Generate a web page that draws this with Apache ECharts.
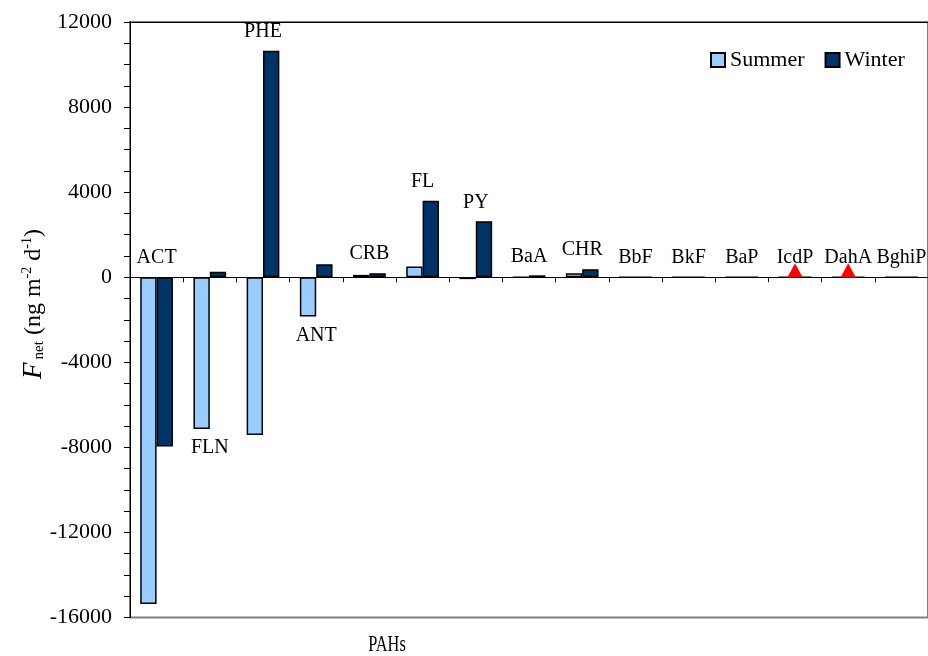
<!DOCTYPE html>
<html>
<head>
<meta charset="utf-8">
<title>Net flux of PAHs</title>
<script src="https://cdn.jsdelivr.net/npm/echarts@6/dist/echarts.min.js"></script>
<style>
  html, body { margin: 0; padding: 0; background: #fff; }
  #chart { width: 928px; height: 656px; }
</style>
</head>
<body>
<div id="chart"></div>
<script>
// PAH compounds along the x axis
const categories = ['ACT', 'FLN', 'PHE', 'ANT', 'CRB', 'FL', 'PY', 'BaA', 'CHR', 'BbF', 'BkF', 'BaP', 'IcdP', 'DahA', 'BghiP'];
// Net flux, ng m-2 d-1
const summer = [-15370, -7140, -7420, -1850, 110, 500, -90, 0, 190, 0, 0, 0, 0, 0, 0];
const winter = [-7960, 260, 10650, 610, 190, 3600, 2630, 90, 380, 0, 0, 0, 0, 0, 0];
// Compounds flagged with a red triangle
const flagged = ['IcdP', 'DahA'];
// Compounds whose name sits beneath their bars
const namesBelow = ['FLN', 'ANT'];
// Value axis
const yMin = -16000, yMax = 12000, yStep = 1000, yLabelStep = 4000;

const serif = "'Liberation Serif', 'Times New Roman', serif";

const nameAnchors = categories.map((c, i) =>
  namesBelow.includes(c) ? Math.min(summer[i], winter[i], 0) : Math.max(summer[i], winter[i], 0));
const flagData = categories.map(c => (flagged.includes(c) ? 0 : null));

const chart = echarts.init(document.getElementById('chart'), null, { renderer: 'canvas' });

chart.setOption({
  backgroundColor: '#ffffff',
  animation: false,
  grid: {
    left: 130, top: 22, width: 806, height: 595.5,
    show: true, borderColor: '#7f7f7f', borderWidth: 2, backgroundColor: 'transparent'
  },
  legend: {
    data: ['Summer', 'Winter'],
    icon: 'rect',
    left: 710, top: 49, padding: 0,
    itemWidth: 14, itemHeight: 14, itemGap: 20,
    textStyle: { fontFamily: serif, fontSize: 22, color: '#000' }
  },
  xAxis: [
    {
      type: 'category',
      data: categories,
      axisLine: { onZero: true, lineStyle: { color: '#000', width: 1 } },
      axisTick: { show: true, length: 5, lineStyle: { color: '#000' } },
      axisLabel: { show: false },
      splitLine: { show: false }
    },
    {
      type: 'category',
      data: categories,
      position: 'top',
      axisLine: { show: true, lineStyle: { color: '#000', width: 1 } },
      axisTick: { show: false },
      axisLabel: { show: false }
    }
  ],
  yAxis: {
    type: 'value',
    min: yMin, max: yMax, interval: yStep,
    axisLine: { show: true, lineStyle: { color: '#000', width: 1 } },
    axisTick: { show: true, length: 6, lineStyle: { color: '#000' } },
    axisLabel: {
      margin: 18,
      fontFamily: serif, fontSize: 22, color: '#000',
      formatter: v => (v % yLabelStep === 0 ? String(v) : '')
    },
    splitLine: { show: false }
  },
  series: [
    {
      name: 'Summer', type: 'bar', data: summer,
      barGap: '0%', barCategoryGap: '38.5%',
      itemStyle: { color: '#99ccff', borderColor: '#000', borderWidth: 1.5 }
    },
    {
      name: 'Winter', type: 'bar', data: winter,
      barGap: '0%', barCategoryGap: '38.5%',
      itemStyle: { color: '#003366', borderColor: '#000', borderWidth: 1.5 }
    },
    {
      name: 'flags', type: 'scatter', data: flagData,
      symbol: 'triangle', symbolSize: [15, 14], symbolOffset: [0, '-50%'],
      itemStyle: { color: '#ff0000', opacity: 1 }, z: 5
    },
    {
      name: 'names', type: 'scatter', symbolSize: 0, silent: true,
      itemStyle: { opacity: 1 },
      data: nameAnchors.map((v, i) => ({
        value: v,
        label: { position: namesBelow.includes(categories[i]) ? 'bottom' : 'top' }
      })),
      label: {
        show: true, distance: 9, opacity: 1,
        fontFamily: serif, fontSize: 20, color: '#000',
        formatter: p => categories[p.dataIndex]
      },
      z: 6
    }
  ],
  graphic: [
    {
      type: 'text', x: 34, y: 304, rotation: Math.PI / 2,
      style: {
        text: '{f|F}{s|net}{t| (ng m}{p|-2}{t| d}{p|-1}{t|)}',
        textAlign: 'center', textVerticalAlign: 'middle',
        fill: '#000',
        rich: {
          f: { fontFamily: serif, fontSize: 27, fontStyle: 'italic', lineHeight: 32, verticalAlign: 'middle' },
          t: { fontFamily: serif, fontSize: 24, lineHeight: 32, verticalAlign: 'middle' },
          s: { fontFamily: serif, fontSize: 15, lineHeight: 32, verticalAlign: 'middle', padding: [11, 0, 0, 3] },
          p: { fontFamily: serif, fontSize: 14, lineHeight: 32, verticalAlign: 'middle', padding: [0, 0, 13, 0] }
        }
      }
    },
    {
      type: 'text', x: 387, y: 645, scaleX: 0.68,
      style: {
        text: 'PAHs', fontFamily: serif, fontSize: 24, fill: '#000',
        textAlign: 'center', textVerticalAlign: 'middle'
      }
    }
  ]
});
</script>
</body>
</html>
